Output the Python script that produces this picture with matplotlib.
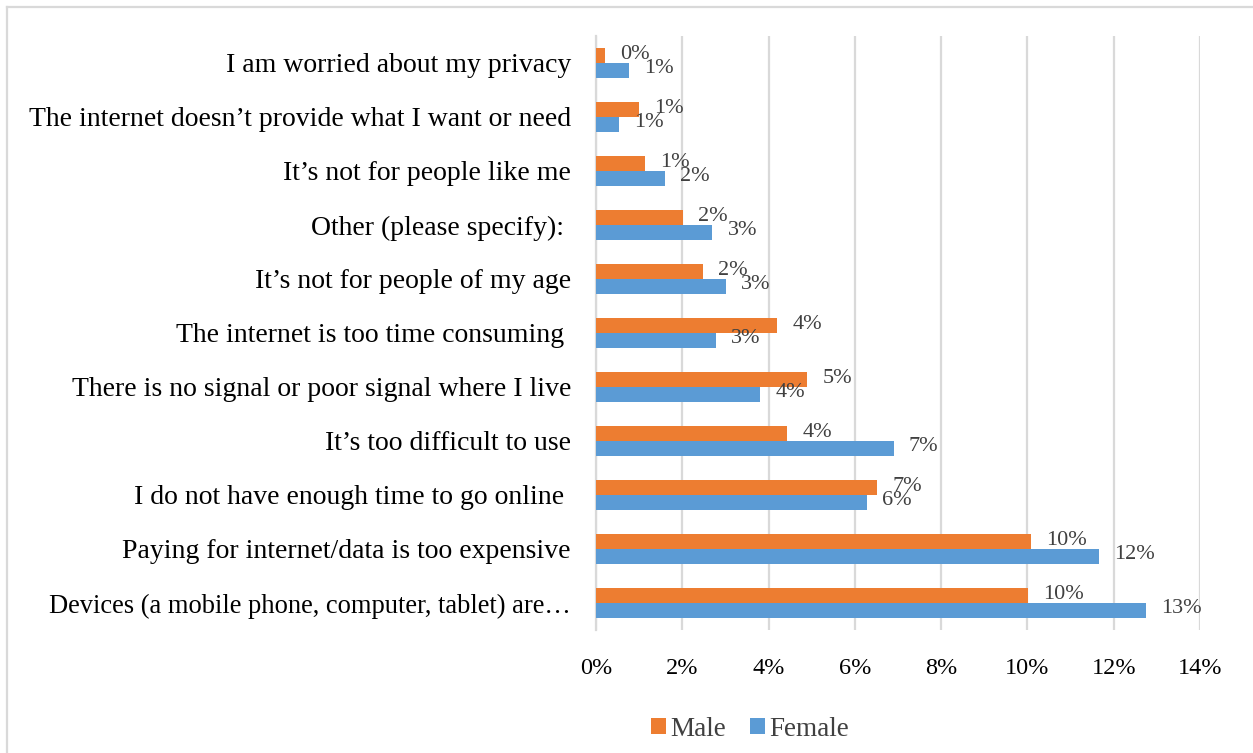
import matplotlib
matplotlib.use("Agg")
import matplotlib.pyplot as plt
from matplotlib.patches import Patch
from matplotlib.lines import Line2D
import numpy as np

plt.rcParams['font.family'] = ['Liberation Serif', 'DejaVu Serif']

categories = [
    "I am worried about my privacy",
    "The internet doesn\u2019t provide what I want or need",
    "It\u2019s not for people like me",
    "Other (please specify): ",
    "It\u2019s not for people of my age",
    "The internet is too time consuming ",
    "There is no signal or poor signal where I live",
    "It\u2019s too difficult to use",
    "I do not have enough time to go online ",
    "Paying for internet/data is too expensive",
    "Devices (a mobile phone, computer, tablet) are\u2026",
]
male = [0.21, 1.00, 1.14, 2.02, 2.48, 4.20, 4.89, 4.43, 6.51, 10.08, 10.01]
female = [0.77, 0.53, 1.60, 2.70, 3.01, 2.78, 3.80, 6.90, 6.28, 11.66, 12.75]
series_names = ["Male", "Female"]
x_ticks = [0, 2, 4, 6, 8, 10, 12, 14]

orange = "#ED7D31"
blue = "#5B9BD5"
grid_c = "#D9D9D9"

W, H = 1253, 753
fig = plt.figure(figsize=(W / 100, H / 100), dpi=100)
ax = fig.add_axes([596 / W, 1 - 630 / H, (1200 - 596) / W, (630 - 36) / H])

y = np.arange(len(categories))
h = 0.27
ax.barh(y - h / 2, male, height=h, color=orange, zorder=3)
ax.barh(y + h / 2, female, height=h, color=blue, zorder=3)

ax.set_xlim(0, 14)
ax.set_ylim(len(categories) - 0.5, -0.5)
ax.set_xticks(x_ticks)
ax.set_xticklabels([f"{t}%" for t in x_ticks], fontsize=17.5, color="black")
ax.set_yticks(y)
ax.set_yticklabels(categories, fontsize=20, color="black")
# the truncated last label is set a touch tighter
ax.get_yticklabels()[-1].set_fontsize(19.1)
ax.tick_params(axis='both', length=0)
ax.tick_params(axis='x', pad=20)
ax.tick_params(axis='y', pad=18)

ax.grid(axis='x', color=grid_c, linewidth=1.6, zorder=0)
for s in ["top", "right", "bottom"]:
    ax.spines[s].set_visible(False)
ax.spines["left"].set_color(grid_c)
ax.spines["left"].set_linewidth(1.6)

for yi, m, f in zip(y, male, female):
    ax.annotate(f"{m:.0f}%", (m, yi - h / 2), xytext=(11, 1), textcoords="offset points",
                ha="left", va="center", fontsize=16, color="#404040", zorder=4)
    ax.annotate(f"{f:.0f}%", (f, yi + h / 2), xytext=(11, 1), textcoords="offset points",
                ha="left", va="center", fontsize=16, color="#404040", zorder=4)

handles = [Patch(facecolor=orange), Patch(facecolor=blue)]
fig.legend(handles, series_names, loc="center", bbox_to_anchor=(750 / W, 1 - 729 / H),
           ncol=2, frameon=False, fontsize=19.5, handlelength=0.55, handleheight=0.55,
           handletextpad=0.15, columnspacing=0.9, labelcolor="#404040")

# chart area border (top and left edges)
fig.add_artist(Line2D([7 / W, 1], [1 - 6.5 / H, 1 - 6.5 / H], transform=fig.transFigure,
                      color=grid_c, linewidth=1.6))
fig.add_artist(Line2D([7 / W, 7 / W], [0, 1 - 6.5 / H], transform=fig.transFigure,
                      color=grid_c, linewidth=1.6))

fig.savefig("out.png", dpi=100)
